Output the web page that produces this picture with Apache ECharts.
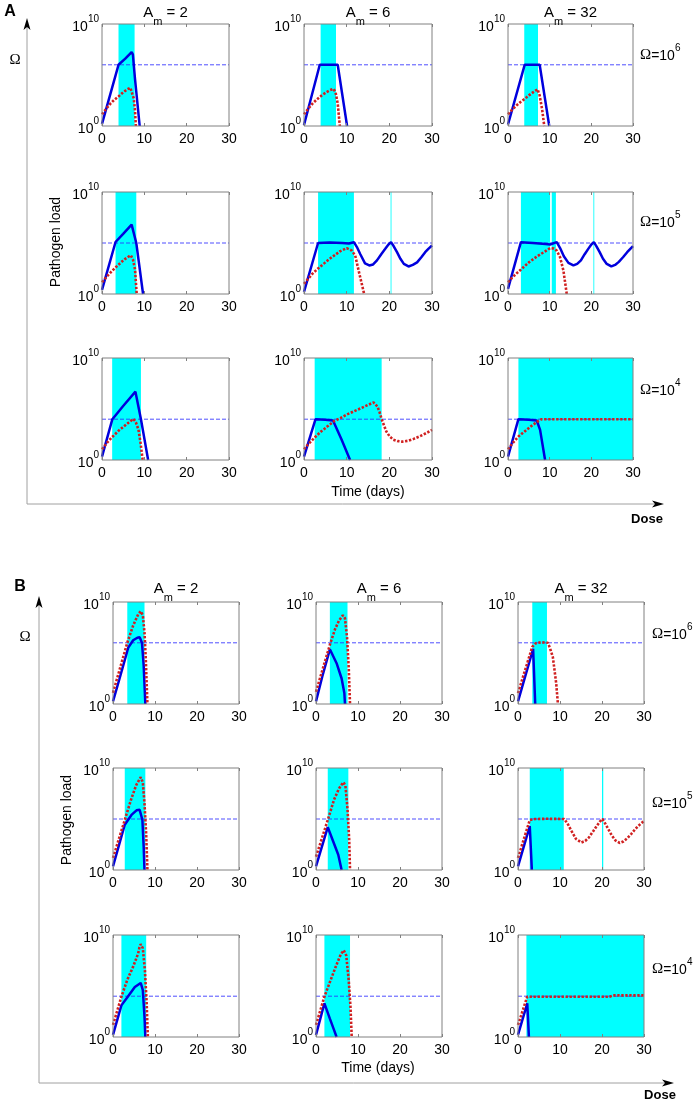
<!DOCTYPE html>
<html>
<head>
<meta charset="utf-8">
<script src="https://cdn.jsdelivr.net/npm/echarts@6/dist/echarts.min.js"></script>
<style>
html, body { margin: 0; background: #fff; }
#chart { width: 698px; height: 1104px; }
</style>
</head>
<body>
<div id="chart"></div>
<script>
// columns: A_m, rows: threshold Omega (as exponent)
let amValues = [2, 6, 32];
let omegaExp = [6, 5, 4];
let xTicks = [0, 10, 20, 30];
let yTicks = [0, 10]; // log10 pathogen load

// every subplot: row-major (Omega 10^6, 10^5, 10^4) x (A_m 2, 6, 32)
// points are [day, log10 pathogen load]; cyan = treatment windows [from, to]
let cyanA = [
    [[3.9, 7.7]], [[3.9, 7.5]], [[3.9, 7.2]],
    [[3.2, 8.1]], [[3.3, 11.7], [20.3, 20.5]], [[3.1, 10.1], [10.5, 11.5], [20.5, 20.7]],
    [[2.4, 9.2]], [[2.5, 18.2]], [[2.5, 30]]
];
let blueA = [
    [[0, 0.2], [3.9, 6.0], [5.5, 6.6], [7.0, 7.25], [7.3, 7.0], [7.8, 4.6], [8.9, 0]],
    [[0, 0.1], [3.7, 6.0], [7.9, 6.0], [10.1, 0]],
    [[0, 0.15], [4.0, 6.0], [7.6, 6.0], [9.9, 0]],
    [[0, 0.4], [3.2, 5.1], [5.0, 5.9], [7.0, 6.8], [8.1, 5.0], [9.7, 0]],
    [[0, 0.2], [3.3, 5.0], [6, 5.05], [9, 5.0], [10.5, 4.95], [11.7, 5.08], [12.4, 4.6], [13.2, 3.9], [14.3, 3.0], [15.3, 2.8],
     [16.2, 2.9], [17.1, 3.3], [18.1, 3.9], [19.0, 4.4], [19.8, 4.85], [20.4, 5.08], [21.0, 4.7], [21.8, 4.1], [22.6, 3.45],
     [23.4, 2.95], [24.5, 2.7], [25.5, 2.85], [26.5, 3.1], [27.5, 3.6], [28.4, 4.1], [29.2, 4.45], [30, 4.75]],
    [[0, 0.5], [3.1, 5.08], [6, 5.0], [9, 4.9], [10.1, 4.85], [11.7, 5.08], [12.5, 4.5], [13.4, 3.7], [14.5, 3.05], [15.7, 2.8],
     [16.6, 2.95], [17.5, 3.3], [18.4, 3.9], [19.3, 4.45], [20.0, 4.85], [20.6, 5.08], [21.2, 4.7], [22, 4.1], [22.8, 3.45],
     [23.7, 2.95], [24.8, 2.7], [25.7, 2.85], [26.6, 3.15], [27.6, 3.6], [28.6, 4.1], [29.3, 4.4], [30, 4.7]],
    [[0, 0.33], [2.45, 4.0], [5, 5.3], [7.9, 6.7], [9.2, 4.0], [10.9, 0]],
    [[0, 0.33], [2.7, 4.0], [5, 3.95], [6.8, 3.87], [8.8, 2.0], [10.8, 0]],
    [[0, 0.33], [2.5, 4.0], [5, 3.95], [6.9, 3.87], [7.7, 2.95], [8.9, 0]]
];
let redA = [
    [[0, 1.15], [1, 1.7], [2, 2.2], [3, 2.6], [3.9, 2.9], [5, 3.3], [6, 3.6], [6.7, 3.75], [7.0, 3.6], [7.5, 2.7], [7.8, 1.5], [8.0, 0]],
    [[0, 1.15], [1, 1.7], [2, 2.2], [3, 2.6], [4, 2.95], [5, 3.25], [6, 3.5], [6.9, 3.65], [7.4, 3.3], [7.9, 2.2], [8.4, 0]],
    [[0, 1.15], [1, 1.6], [2, 2.0], [3, 2.35], [4, 2.65], [5, 3.0], [6, 3.3], [7.1, 3.6], [7.6, 3.0], [8.2, 1.6], [8.7, 0]],
    [[0, 1.15], [1, 1.65], [2, 2.1], [3.2, 2.6], [4.5, 3.1], [5.5, 3.45], [6.8, 3.8], [7.3, 3.4], [7.8, 2.4], [8.2, 0]],
    [[0, 1.0], [1, 1.5], [2, 2.0], [3.3, 2.5], [5, 3.1], [6.5, 3.6], [8.5, 4.2], [10, 4.5], [11.2, 4.26], [12.0, 3.77], [12.8, 2.3], [14.1, 0]],
    [[0, 1.15], [1, 1.6], [2, 2.0], [3.1, 2.4], [5, 3.1], [7, 3.7], [9, 4.2], [10.1, 4.5], [11, 4.45], [11.7, 4.25], [12.5, 3.6], [13.3, 2.3], [14.1, 0]],
    [[0, 1.05], [1, 1.6], [2.4, 2.25], [4, 2.9], [5.5, 3.4], [7.4, 4.03], [8.0, 3.7], [8.6, 3.0], [9.1, 1.7], [9.6, 0]],
    [[0, 1.05], [1, 1.55], [2.5, 2.2], [4, 2.8], [5.5, 3.3], [7, 3.8], [8.5, 4.1], [10, 4.45], [12.4, 4.9], [14.5, 5.3], [16.3, 5.64],
     [17.2, 5.25], [17.7, 4.7], [18.2, 4.0], [19.3, 2.8], [20.1, 2.3], [20.9, 2.0], [22, 1.85], [23, 1.8], [24.3, 1.88], [25.7, 2.07],
     [27, 2.3], [28, 2.5], [29, 2.72], [30, 2.95]],
    [[0, 1.05], [1, 1.6], [2.5, 2.3], [4, 2.8], [5.5, 3.3], [7, 3.75], [8.1, 4.0], [30, 4.0]]
];

let cyanB = [
    [[3.4, 7.5]], [[3.3, 7.5]], [[3.4, 6.9]],
    [[2.8, 7.7]], [[2.8, 7.7]], [[2.8, 10.9], [20.0, 20.3]],
    [[2.0, 7.9]], [[2.0, 8.1]], [[2.0, 30]]
];
let blueB = [
    [[0, 0.26], [1.5, 2.4], [3.0, 4.6], [3.6, 5.5], [4.8, 6.25], [5.8, 6.5], [6.35, 6.55], [6.9, 6.0], [7.3, 3.8], [7.7, 0]],
    [[0, 0.26], [1.5, 2.7], [3.3, 5.36], [4.9, 4.0], [6.1, 2.5], [6.75, 1.07], [6.9, 0]],
    [[0, 0.26], [3.6, 5.4], [4.1, 0]],
    [[0, 0.36], [2.8, 4.44], [4.4, 5.4], [5.6, 5.85], [6.35, 5.9], [7.0, 4.9], [7.3, 2.3], [7.5, 0]],
    [[0, 0.36], [2.8, 4.2], [4.1, 2.8], [5.3, 1.5], [6.1, 0]],
    [[0, 0.36], [2.8, 4.3], [3.3, 0]],
    [[0, 0.2], [2.0, 3.1], [3.6, 4.0], [5.2, 4.9], [6.6, 5.3], [7.1, 4.6], [7.5, 2.0], [7.7, 0]],
    [[0, 0.2], [2.0, 3.3], [3.3, 1.8], [4.2, 0.8], [4.9, 0]],
    [[0, 0.2], [2.2, 3.3], [2.6, 0]]
];
let redB = [
    [[0, 1.1], [3.4, 6.0], [4.8, 7.7], [6.0, 8.8], [6.6, 9.1], [7.1, 8.7], [7.5, 7.0], [7.8, 4.5], [8.2, 0]],
    [[0, 1.2], [3.3, 5.8], [4.5, 7.3], [5.5, 8.2], [6.4, 8.7], [6.9, 8.4], [7.4, 6.5], [7.8, 3.5], [8.1, 0]],
    [[0, 1.07], [3.4, 5.6], [4.2, 5.95], [5.5, 6.05], [7.1, 6.0], [7.6, 5.5], [8.3, 4.6], [9.1, 2.0], [9.5, 0]],
    [[0, 1.18], [2.8, 4.9], [4.3, 6.9], [5.5, 8.3], [6.6, 9.1], [7.1, 8.6], [7.5, 6.5], [7.9, 3.5], [8.2, 0]],
    [[0, 1.3], [2.8, 4.9], [4.3, 6.9], [5.5, 8.0], [6.5, 8.6], [7.0, 8.3], [7.5, 6.0], [7.9, 3.0], [8.1, 0]],
    [[0, 1.18], [2.8, 4.9], [4, 5.0], [7, 5.02], [11, 5.0], [11.8, 4.55], [12.7, 3.85], [13.8, 3.05], [15.1, 2.7], [16.0, 2.85],
     [16.9, 3.2], [17.9, 3.8], [18.8, 4.35], [19.5, 4.75], [20.1, 5.0], [20.7, 4.6], [21.5, 4.0], [22.3, 3.4], [23.2, 2.9],
     [24.2, 2.65], [25.1, 2.8], [26.0, 3.1], [27, 3.55], [28, 4.05], [29, 4.45], [30, 4.8]],
    [[0, 1.18], [2.0, 3.95], [3.4, 5.6], [4.8, 6.9], [6.0, 8.2], [6.3, 8.8], [6.6, 9.1], [7.1, 8.7], [7.6, 6.5], [8.0, 3.5], [8.3, 0]],
    [[0, 1.18], [2.0, 3.95], [3.5, 5.6], [4.8, 7.0], [5.9, 8.1], [6.6, 8.5], [7.2, 8.0], [7.8, 5.5], [8.2, 3.0], [8.5, 0]],
    [[0, 1.18], [2.2, 3.95], [21.8, 3.95], [22.6, 4.08], [30, 4.08]]
];

// layout of the two 3x3 blocks (px)
let panels = [
    { cyan: cyanA, blue: blueA, red: redA, lefts: [102, 304, 508], widths: [127, 128, 125], tops: [24, 192, 358] },
    { cyan: cyanB, blue: blueB, red: redB, lefts: [113, 316, 518], widths: [126, 126, 126], tops: [602, 768, 935] }
];
let plotH = 102;
let FONT = '"Liberation Sans", Arial, sans-serif';
let SERIF = '"Liberation Serif", "Times New Roman", serif';

let grids = [], xAxes = [], topAxes = [], yAxes = [], series = [];
let xFirst = xTicks[0], xLast = xTicks[xTicks.length - 1];

panels.forEach(function(p) {
    for (let r = 0; r < 3; r++) {
        for (let c = 0; c < 3; c++) {
            let k = r * 3 + c;
            let gi = grids.length;
            grids.push({
                left: p.lefts[c], top: p.tops[r], width: p.widths[c], height: plotH,
                show: true, borderColor: '#808080', borderWidth: 1,
                backgroundColor: 'rgba(0,0,0,0)', z: 5
            });
            let xBase = {
                gridIndex: gi, type: 'value',
                min: xFirst, max: xLast, interval: xTicks[1] - xTicks[0],
                axisLine: { show: false },
                axisTick: { show: true, inside: true, length: 3, lineStyle: { color: '#808080' } },
                splitLine: { show: false },
                z: 5
            };
            xAxes.push(Object.assign({}, xBase, {
                position: 'bottom',
                axisLabel: { show: true, color: '#000', fontSize: 14, fontFamily: FONT, margin: 6 }
            }));
            topAxes.push(Object.assign({}, xBase, {
                position: 'top',
                axisLabel: { show: false }
            }));
            yAxes.push({
                gridIndex: gi, type: 'value',
                min: yTicks[0], max: yTicks[1], interval: yTicks[1] - yTicks[0],
                axisLine: { show: false }, axisTick: { show: false }, splitLine: { show: false },
                axisLabel: {
                    margin: 3,
                    formatter: function(v) { return '{b|10}{s|' + v + '}'; },
                    rich: {
                        b: { fontSize: 14, fontFamily: FONT, color: '#000', lineHeight: 20, verticalAlign: 'bottom' },
                        s: { fontSize: 10, fontFamily: FONT, color: '#000', verticalAlign: 'top' }
                    }
                },
                z: 5
            });
            // threshold Omega, thin dashed blue
            series.push({
                type: 'line', xAxisIndex: gi, yAxisIndex: gi,
                data: [[xFirst, omegaExp[r]], [xLast, omegaExp[r]]],
                symbol: 'none', silent: true,
                lineStyle: { color: '#3030ff', width: 1, type: [4, 2], opacity: 0.85 },
                markArea: {
                    silent: true,
                    itemStyle: { color: '#00ffff' },
                    data: p.cyan[k].map(function(w) { return [{ xAxis: w[0] }, { xAxis: w[1] }]; })
                }
            });
            series.push({
                type: 'line', xAxisIndex: gi, yAxisIndex: gi,
                data: p.blue[k], symbol: 'none', clip: true,
                lineStyle: { color: '#0000dd', width: 2.5 }
            });
            series.push({
                type: 'line', xAxisIndex: gi, yAxisIndex: gi,
                data: p.red[k], symbol: 'none', clip: true,
                lineStyle: { color: '#d02020', width: 2.6, type: [2.4, 1.6] }
            });
        }
    }
});

// annotations
function txt(x, y, text, rich, extra) {
    return Object.assign({
        type: 'text', x: x, y: y, silent: true, z: 20,
        style: { text: text, rich: rich, fill: '#000', font: '14px ' + FONT, align: 'center', verticalAlign: 'middle' }
    }, extra || {});
}
let subRich = {
    a: { fontSize: 15, fontFamily: FONT, fill: '#000', color: '#000', lineHeight: 22, verticalAlign: 'top' },
    m: { fontSize: 11, fontFamily: FONT, fill: '#000', color: '#000', verticalAlign: 'bottom' }
};
let supRich = {
    o: { fontSize: 15, fontFamily: SERIF, fill: '#000', color: '#000', lineHeight: 20, verticalAlign: 'bottom' },
    b: { fontSize: 14, fontFamily: FONT, fill: '#000', color: '#000', lineHeight: 20, verticalAlign: 'bottom' },
    s: { fontSize: 10, fontFamily: FONT, fill: '#000', color: '#000', verticalAlign: 'top' }
};

let graphics = [];
let frames = [
    { x: 27, yTop: 18, yBot: 504, xEnd: 664, letter: 'A', lx: 10, ly: 12, ox: 15, oy: 60,
      titleY: 16, omegaX: 640, omegaY: [53, 220, 388], pathY: 242, pathX: 56, timeX: 368, timeY: 492, doseX: 647, doseY: 519 },
    { x: 39, yTop: 596, yBot: 1083, xEnd: 674, letter: 'B', lx: 20, ly: 587, ox: 25, oy: 637,
      titleY: 592, omegaX: 652, omegaY: [632, 801, 967], pathY: 820, pathX: 67, timeX: 378, timeY: 1068, doseX: 660, doseY: 1095 }
];
frames.forEach(function(f, pi) {
    let p = panels[pi];
    graphics.push({ type: 'line', silent: true, shape: { x1: f.x, y1: f.yTop + 6, x2: f.x, y2: f.yBot }, style: { stroke: '#a0a0a0', lineWidth: 1 } });
    graphics.push({ type: 'line', silent: true, shape: { x1: f.x, y1: f.yBot, x2: f.xEnd - 6, y2: f.yBot }, style: { stroke: '#a0a0a0', lineWidth: 1 } });
    graphics.push({ type: 'polygon', silent: true, shape: { points: [[f.x, f.yTop], [f.x - 3.5, f.yTop + 12], [f.x, f.yTop + 9], [f.x + 3.5, f.yTop + 12]] }, style: { fill: '#000' } });
    graphics.push({ type: 'polygon', silent: true, shape: { points: [[f.xEnd, f.yBot], [f.xEnd - 12, f.yBot - 3.5], [f.xEnd - 9, f.yBot], [f.xEnd - 12, f.yBot + 3.5]] }, style: { fill: '#000' } });
    graphics.push(txt(f.lx, f.ly, f.letter, null, { style: { text: f.letter, fill: '#000', font: 'bold 16px ' + FONT, align: 'center', verticalAlign: 'middle' } }));
    graphics.push(txt(f.ox, f.oy, 'Ω', null, { style: { text: 'Ω', fill: '#000', font: '15px ' + SERIF, align: 'center', verticalAlign: 'middle' } }));
    graphics.push(txt(f.doseX, f.doseY, 'Dose', null, { style: { text: 'Dose', fill: '#000', font: 'bold 13px ' + FONT, align: 'center', verticalAlign: 'middle' } }));
    graphics.push(txt(f.timeX, f.timeY, 'Time (days)', null, { style: { text: 'Time (days)', fill: '#000', font: '14px ' + FONT, align: 'center', verticalAlign: 'middle' } }));
    graphics.push(txt(f.pathX, f.pathY, 'Pathogen load', null, {
        rotation: Math.PI / 2,
        style: { text: 'Pathogen load', fill: '#000', font: '14px ' + FONT, align: 'center', verticalAlign: 'middle' }
    }));
    amValues.forEach(function(am, c) {
        let cx = p.lefts[c] + p.widths[c] / 2;
        graphics.push(txt(cx, f.titleY, '{a|A}{m|m}{a| = ' + am + '}', subRich));
    });
    omegaExp.forEach(function(e, r) {
        graphics.push(txt(f.omegaX, f.omegaY[r], '{o|Ω}{b|=10}{s|' + e + '}', supRich, {
            style: { text: '{o|Ω}{b|=10}{s|' + e + '}', rich: supRich, fill: '#000', font: '14px ' + FONT, align: 'left', verticalAlign: 'middle' }
        }));
    });
});

let option = {
    animation: false,
    backgroundColor: '#fff',
    grid: grids,
    xAxis: xAxes.concat(topAxes),
    yAxis: yAxes,
    series: series,
    graphic: graphics
};

let mychart = echarts.init(document.getElementById('chart'));
mychart.setOption(option);
window.addEventListener('resize', function() {
    mychart.resize();
});
</script>
</body>
</html>
